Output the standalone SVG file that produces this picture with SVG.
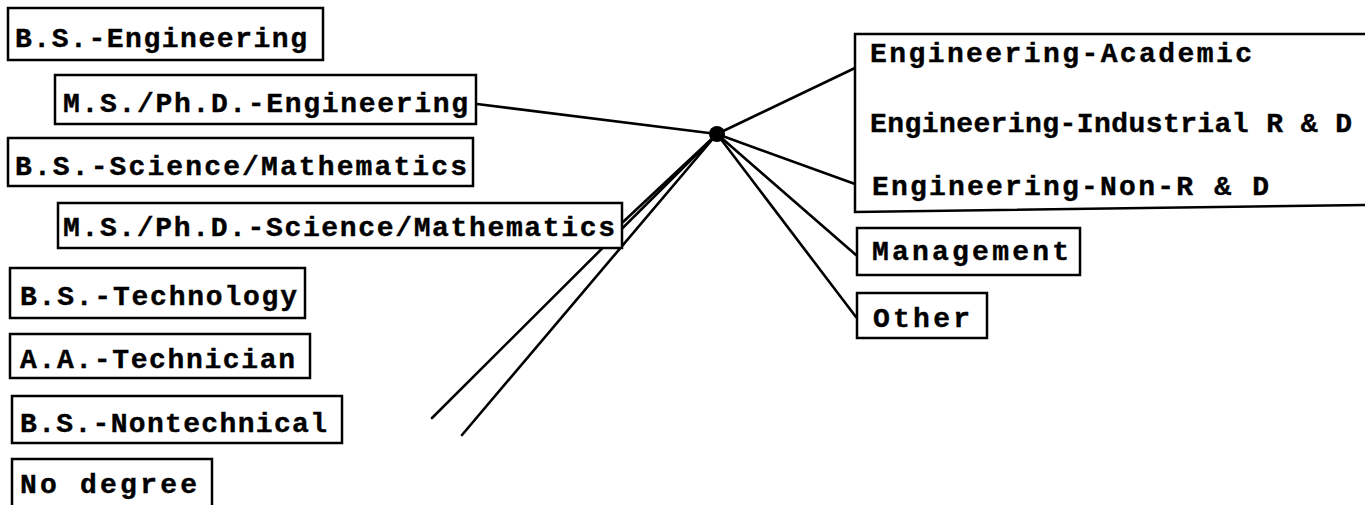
<svg xmlns="http://www.w3.org/2000/svg" width="1365" height="505" viewBox="0 0 1365 505">
<style>
.box{fill:#fff;stroke:#000;stroke-width:2.5}
.ln{stroke:#000;stroke-width:2.6;fill:none;stroke-linecap:round}
.t{font-family:"Liberation Mono","DejaVu Sans Mono",monospace;font-weight:bold;font-size:28px;fill:#000;stroke:#000;stroke-width:0.4}
</style>
<rect width="1365" height="505" fill="#fff"/>
<g id="connectors">
<line class="ln" x1="477" y1="104" x2="717" y2="134"/>
<line class="ln" x1="717" y1="134" x2="855" y2="68"/>
<line class="ln" x1="717" y1="134" x2="855" y2="184"/>
<line class="ln" x1="717" y1="134" x2="856" y2="255"/>
<line class="ln" x1="717" y1="134" x2="856" y2="317"/>
<line class="ln" x1="717" y1="134" x2="623" y2="222"/>
<line class="ln" x1="717" y1="134" x2="432" y2="418"/>
<line class="ln" x1="717" y1="134" x2="462" y2="435"/>
<circle cx="717" cy="134" r="8" fill="#000"/>
</g>
<g id="n-bs-eng"><rect class="box" x="8" y="8" width="315" height="52"/><text class="t" x="15" y="47" textLength="292" lengthAdjust="spacing">B.S.-Engineering</text></g>
<g id="n-ms-eng"><rect class="box" x="55" y="75" width="421" height="49"/><text class="t" x="63" y="112" textLength="405" lengthAdjust="spacing">M.S./Ph.D.-Engineering</text></g>
<g id="n-bs-sci"><rect class="box" x="8" y="138" width="465" height="48"/><text class="t" x="15" y="175" textLength="452" lengthAdjust="spacing">B.S.-Science/Mathematics</text></g>
<g id="n-ms-sci"><rect class="box" x="58" y="203" width="564" height="45"/><text class="t" x="63" y="236" textLength="552" lengthAdjust="spacing">M.S./Ph.D.-Science/Mathematics</text></g>
<g id="n-bs-tech"><rect class="box" x="10" y="268" width="295" height="50"/><text class="t" x="20" y="305" textLength="277" lengthAdjust="spacing">B.S.-Technology</text></g>
<g id="n-aa"><rect class="box" x="10" y="334" width="300" height="44"/><text class="t" x="20" y="368" textLength="275" lengthAdjust="spacing">A.A.-Technician</text></g>
<g id="n-bs-nontech"><rect class="box" x="12" y="396" width="330" height="47"/><text class="t" x="20" y="432" textLength="307" lengthAdjust="spacing">B.S.-Nontechnical</text></g>
<g id="n-nodeg"><rect class="box" x="12" y="459" width="200" height="60"/><text class="t" x="20" y="493" textLength="177" lengthAdjust="spacing">No degree</text></g>
<g id="n-eng">
<path d="M1366,34 L855,34 L855,212 L1366,205" fill="#fff" stroke="#000" stroke-width="2.5"/>
<text class="t" x="870" y="62" textLength="382" lengthAdjust="spacing">Engineering-Academic</text>
<text class="t" x="870" y="132" textLength="482" lengthAdjust="spacing">Engineering-Industrial R &amp; D</text>
<text class="t" x="872" y="195" textLength="397" lengthAdjust="spacing">Engineering-Non-R &amp; D</text>
</g>
<g id="n-mgmt"><rect class="box" x="857" y="228" width="223" height="47"/><text class="t" x="872" y="260" textLength="197" lengthAdjust="spacing">Management</text></g>
<g id="n-other"><rect class="box" x="857" y="293" width="130" height="45"/><text class="t" x="873" y="327" textLength="97" lengthAdjust="spacing">Other</text></g>
</svg>
